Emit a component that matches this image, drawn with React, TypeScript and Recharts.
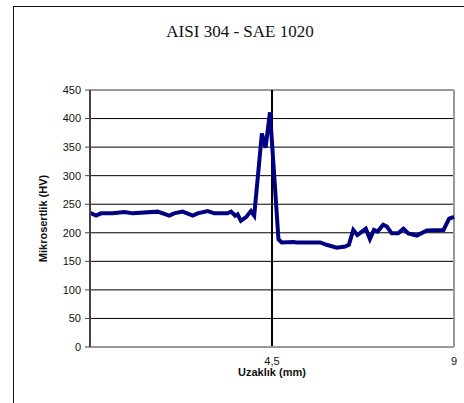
import React from 'react';
import { LineChart, Line, XAxis, YAxis, CartesianGrid, ReferenceLine } from 'recharts';

const distanceMm = [
  0, 0.15, 0.27, 0.56, 0.85, 1.06, 1.67, 1.96, 2.08, 2.29, 2.54, 2.66, 2.91, 3.07, 3.4, 3.49,
  3.59, 3.65, 3.73, 3.86, 3.98, 4.06, 4.25, 4.34, 4.45, 4.66, 4.74, 5.03, 5.11, 5.69, 5.85,
  6.1, 6.31, 6.4, 6.51, 6.61, 6.82, 6.92, 7.02, 7.11, 7.25, 7.34, 7.46, 7.62, 7.75, 7.87,
  8.08, 8.33, 8.74, 8.88, 9.0,
];
const hardnessHV = [
  235, 230, 234, 234, 236.5, 234, 237, 230, 234, 237, 230, 234, 238, 234, 234, 237,
  230, 232.5, 221, 227.5, 238, 230, 374, 349, 411, 188.6, 183, 184, 183, 183, 179,
  174, 176, 179, 205, 196, 207, 189, 205, 202, 214, 211, 199, 199, 207, 199,
  195, 204, 205, 225, 228,
];
const xTicks = [4.5, 9];
const yTicks = [0, 50, 100, 150, 200, 250, 300, 350, 400, 450];

const data = distanceMm.map((d, i) => ({ d, hv: hardnessHV[i] }));

const YLabel = (props: any) => {
  const vb = props.viewBox || {};
  const cx = (vb.x || 0) + 43;
  const cy = (vb.y || 0) + (vb.height || 0) / 2;
  return (
    <text
      x={cx}
      y={cy}
      transform={`rotate(-90, ${cx}, ${cy})`}
      textAnchor="middle"
      dominantBaseline="central"
      fontFamily="Liberation Sans, Arial, sans-serif"
      fontWeight="bold"
      fontSize={11}
      fill="#111"
    >
      Mikrosertlik (HV)
    </text>
  );
};

const XLabel = (props: any) => {
  const vb = props.viewBox || {};
  const cx = (vb.x || 0) + (vb.width || 0) / 2;
  const cy = (vb.y || 0) + 25;
  return (
    <text
      x={cx}
      y={cy}
      textAnchor="middle"
      dominantBaseline="central"
      fontFamily="Liberation Sans, Arial, sans-serif"
      fontWeight="bold"
      fontSize={11}
      fill="#111"
    >
      Uzaklık (mm)
    </text>
  );
};

export default function App() {
  return (
    <div style={{ position: 'absolute', left: 0, top: 0, width: 464, height: 403, overflow: 'hidden', background: '#fff' }}>
      <div
        style={{
          position: 'absolute',
          left: 13,
          top: 6,
          width: 480,
          height: 420,
          borderLeft: '1.5px solid #111',
          borderTop: '1.5px solid #111',
        }}
      />
      <div
        style={{
          position: 'absolute',
          left: 0,
          width: 480,
          top: 22,
          textAlign: 'center',
          fontFamily: 'Liberation Serif, Times New Roman, serif',
          fontSize: 17,
          color: '#111',
          lineHeight: '20px',
        }}
      >
        AISI 304 - SAE 1020
      </div>
      <div style={{ position: 'absolute', left: 0, top: 0 }}>
        <LineChart width={464} height={403} data={data} margin={{ top: 90, right: 10, left: 0, bottom: 0 }}>
          <CartesianGrid horizontal={true} vertical={false} stroke="#000" strokeWidth={1} />
          <XAxis
            dataKey="d"
            type="number"
            domain={[0, 9]}
            ticks={xTicks}
            tickFormatter={(v: number) => String(v).replace('.', ',')}
            tickLine={false}
            axisLine={{ stroke: '#999', strokeWidth: 2 }}
            tick={{ fontFamily: 'Liberation Sans, Arial, sans-serif', fontSize: 11, fill: '#111' }}
            tickMargin={4}
            height={56}
            label={XLabel}
          />
          <YAxis
            type="number"
            domain={[0, 450]}
            ticks={yTicks}
            interval={0}
            width={90}
            tickLine={{ stroke: '#444' }}
            tickSize={5}
            tickMargin={4}
            axisLine={{ stroke: '#444', strokeWidth: 2 }}
            tick={{ fontFamily: 'Liberation Sans, Arial, sans-serif', fontSize: 11, fill: '#111' }}
            label={YLabel}
          />
          <ReferenceLine y={450} stroke="#999" strokeWidth={2} />
          <ReferenceLine x={9} stroke="#999" strokeWidth={2} />
          <ReferenceLine x={4.5} stroke="#000" strokeWidth={2} />
          <Line
            type="linear"
            dataKey="hv"
            stroke="#000080"
            strokeWidth={4}
            dot={false}
            isAnimationActive={false}
          />
        </LineChart>
      </div>
    </div>
  );
}
